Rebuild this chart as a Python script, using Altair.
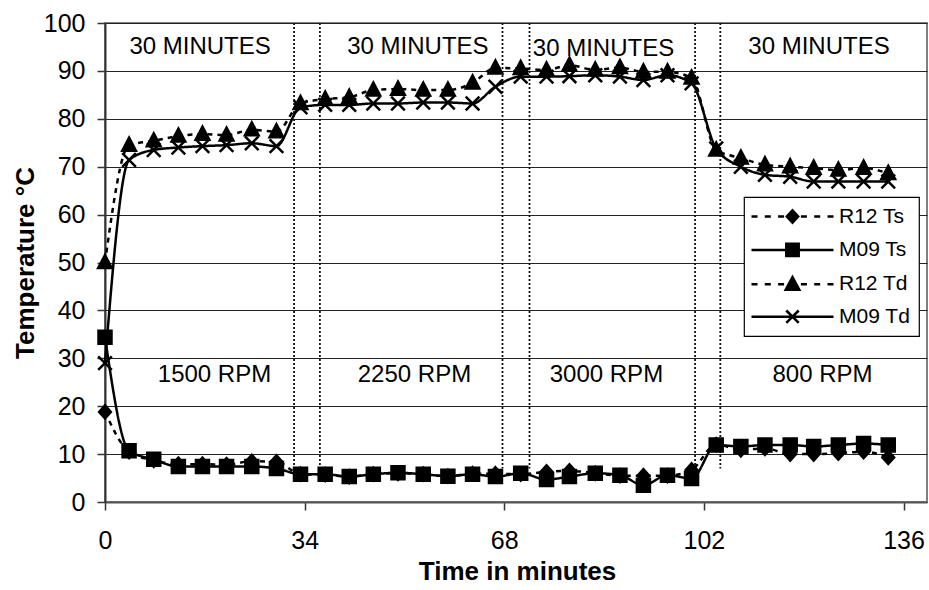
import altair as alt
import pandas as pd

# ---------------- data ----------------
time_min = [0, 4.1, 8.3, 12.5, 16.6, 20.7, 25.0, 29.2, 33.3, 37.5, 41.6, 45.7, 49.9,
            54.2, 58.4, 62.6, 66.5, 70.8, 75.2, 79.1, 83.5, 87.7, 91.7, 95.8, 99.9,
            104.1, 108.3, 112.4, 116.7, 120.7, 124.9, 129.2, 133.4]

r12_ts = [18.8, 10.5, 8.7, 7.9, 7.9, 7.8, 8.5, 8.4, 5.8, 5.7, 5.3, 5.8, 6.0,
          5.8, 5.4, 5.9, 5.9, 5.8, 6.3, 6.5, 6.0, 5.5, 5.5, 5.5, 6.7,
          12.0, 10.9, 11.2, 10.0, 10.0, 10.2, 10.5, 9.3]
m09_ts = [34.4, 10.7, 8.9, 7.4, 7.4, 7.4, 7.4, 7.0, 5.8, 5.8, 5.3, 5.8, 6.1,
          5.8, 5.4, 5.8, 5.3, 6.0, 4.7, 5.3, 6.0, 5.6, 3.5, 5.6, 4.9,
          11.9, 11.6, 11.9, 11.9, 11.6, 11.9, 12.2, 11.9]
r12_td = [50.0, 74.5, 75.4, 76.4, 76.8, 76.6, 77.7, 77.3, 83.2, 84.1, 84.5, 86.0, 86.2,
          86.0, 86.0, 87.5, 90.6, 90.5, 90.2, 91.2, 90.2, 90.7, 89.8, 89.8, 88.5,
          73.5, 71.8, 70.4, 70.0, 69.7, 69.3, 69.7, 68.6]
m09_td = [29.0, 71.4, 73.5, 74.0, 74.3, 74.5, 74.9, 74.3, 82.4, 82.9, 82.9, 83.2, 83.2,
          83.4, 83.4, 83.2, 86.7, 88.8, 88.8, 88.9, 89.1, 88.8, 88.1, 89.1, 87.4,
          73.8, 70.0, 68.3, 67.9, 66.9, 66.9, 66.9, 66.9]

series_names = ["R12 Ts", "M09 Ts", "R12 Td", "M09 Td"]
series_values = [r12_ts, m09_ts, r12_td, m09_td]

phase_line_x = [32.2, 36.6, 67.7, 72.3, 100.5, 104.8]
phase_line_top = [100] * 6
phase_line_bottom = [7] * 6

duration_labels = ["30 MINUTES", "30 MINUTES", "30 MINUTES", "30 MINUTES"]
duration_x = [16.2, 53.3, 84.9, 121.6]
duration_y = [95.0, 95.0, 94.6, 95.0]
speed_labels = ["1500 RPM", "2250 RPM", "3000 RPM", "800 RPM"]
speed_x = [18.65, 52.7, 85.4, 122.2]
speed_y = [26.6, 26.6, 26.6, 26.6]

x_ticks = [0, 34, 68, 102, 136]
y_ticks = [0, 10, 20, 30, 40, 50, 60, 70, 80, 90, 100]

# ---------------- tables ----------------
rows = []
for name, vals in zip(series_names, series_values):
    for t, v in zip(time_min, vals):
        rows.append({"series": name, "t": t, "v": v})
df = pd.DataFrame(rows)

phase_df = pd.DataFrame({"t": phase_line_x, "v": phase_line_top, "v2": phase_line_bottom})
text_df = pd.DataFrame({
    "t": duration_x + speed_x,
    "v": duration_y + speed_y,
    "label": duration_labels + speed_labels,
})

FONT = "Liberation Sans"

x_enc = alt.X(
    "t:Q",
    scale=alt.Scale(domain=[0, 140], nice=False, zero=False),
    axis=alt.Axis(
        values=x_ticks, title="Time in minutes",
        labelFont=FONT, labelFontSize=25, labelColor="black",
        labelFlush=False, labelOverlap=False,
        labelBaseline="alphabetic", labelPadding=38,
        tickSize=8, tickColor="#333", tickWidth=1.5,
        domainColor="#555", domainWidth=2, grid=False,
        titleFont=FONT, titleFontSize=26, titleFontWeight="bold", titleColor="black",
        titleX=412, titleY=77, titleAlign="center", titleBaseline="alphabetic",
    ),
)
y_enc = alt.Y(
    "v:Q",
    scale=alt.Scale(domain=[0, 100], nice=False),
    axis=alt.Axis(
        values=y_ticks, title="Temperature °C",
        labelFont=FONT, labelFontSize=25, labelColor="black",
        labelFlush=False, labelOverlap=False, labelPadding=12,
        tickSize=8, tickColor="#333", tickWidth=1.5,
        domainColor="#333", domainWidth=2,
        grid=True, gridColor="#222", gridWidth=1,
        titleFont=FONT, titleFontSize=26, titleFontWeight="bold", titleColor="black",
        titleAngle=270, titleX=-72, titleY=239.5, titleAlign="center",
        titleBaseline="alphabetic",
    ),
)

marker_paths = [
    "M0,-1L0.9,0L0,1L-0.9,0Z",              # diamond
    "M-1,-1H1V1H-1Z",                        # square
    "M0,-1.15L1.05,0.85L-1.05,0.85Z",        # triangle
    "M-1.05,-1.05L1.05,1.05M-1.05,1.05L1.05,-1.05",  # x
]
# legend symbols: unit = 10 px (symbolSize 400), line spans 82 px
dash_line = ("M-4.1,0H-3.5M-2.77,0H-2.17M-1.44,0H-0.84"
             "M0.84,0H1.44M2.17,0H2.77M3.5,0H4.1")
solid_line = "M-4.1,0H4.1"
legend_paths = [
    dash_line + "M0,-0.62L0.57,0L0,0.62L-0.57,0Z",
    solid_line + "M-0.62,-0.62H0.62V0.62H-0.62Z",
    dash_line + "M0,-0.72L0.68,0.55L-0.68,0.55Z",
    solid_line + "M-0.62,-0.62L0.62,0.62M-0.62,0.62L0.62,-0.62",
]

phase = alt.Chart(phase_df).mark_rule(
    color="#111", strokeDash=[2, 2], strokeWidth=1.8
).encode(x=x_enc, y=y_enc, y2="v2:Q")

lines = alt.Chart(df).mark_line(
    interpolate="monotone", color="black", strokeWidth=2.5
).encode(
    x=x_enc, y=y_enc, detail="series:N",
    strokeDash=alt.StrokeDash(
        "series:N",
        scale=alt.Scale(domain=series_names, range=[[5, 5], [1, 0], [5, 5], [1, 0]]),
        legend=None,
    ),
)

points = alt.Chart(df).mark_point(
    filled=True, fill="black", stroke="black", strokeWidth=2.5, opacity=1, size=169
).encode(
    x=x_enc, y=y_enc,
    shape=alt.Shape("series:N", scale=alt.Scale(domain=series_names, range=marker_paths), legend=None),
)

texts = alt.Chart(text_df).mark_text(
    font=FONT, fontSize=24, color="black", baseline="middle", align="center"
).encode(x=x_enc, y=y_enc, text="label:N")

legend_layer = alt.Chart(df).transform_filter("false").mark_point(
    filled=False, color="black", fill="black", stroke="black", strokeWidth=2.5, opacity=1
).encode(
    x=x_enc, y=y_enc,
    shape=alt.Shape(
        "series:N",
        scale=alt.Scale(domain=series_names, range=legend_paths),
        legend=alt.Legend(
            title=None, orient="none", legendX=639, legendY=174, padding=8,
            fillColor="white", strokeColor="black",
            labelFont=FONT, labelFontSize=21, labelColor="black",
            symbolSize=400, symbolOffset=29, labelOffset=35,
            rowPadding=10.4, symbolStrokeWidth=2.5,
            symbolFillColor="black", symbolOpacity=1,
        ),
    ),
)

chart = alt.layer(phase, lines, points, texts, legend_layer).resolve_scale(
    shape="independent"
).properties(
    width=822, height=479,
    padding={"left": 105, "top": 23, "right": 2, "bottom": 88},
    autosize=alt.AutoSizeParams(type="none"),
    background="white",
).configure_view(stroke="#808080", strokeWidth=2).configure_legend(strokeWidth=1.2)

chart.save("out.html", embed_options={"renderer": "svg", "actions": False})
